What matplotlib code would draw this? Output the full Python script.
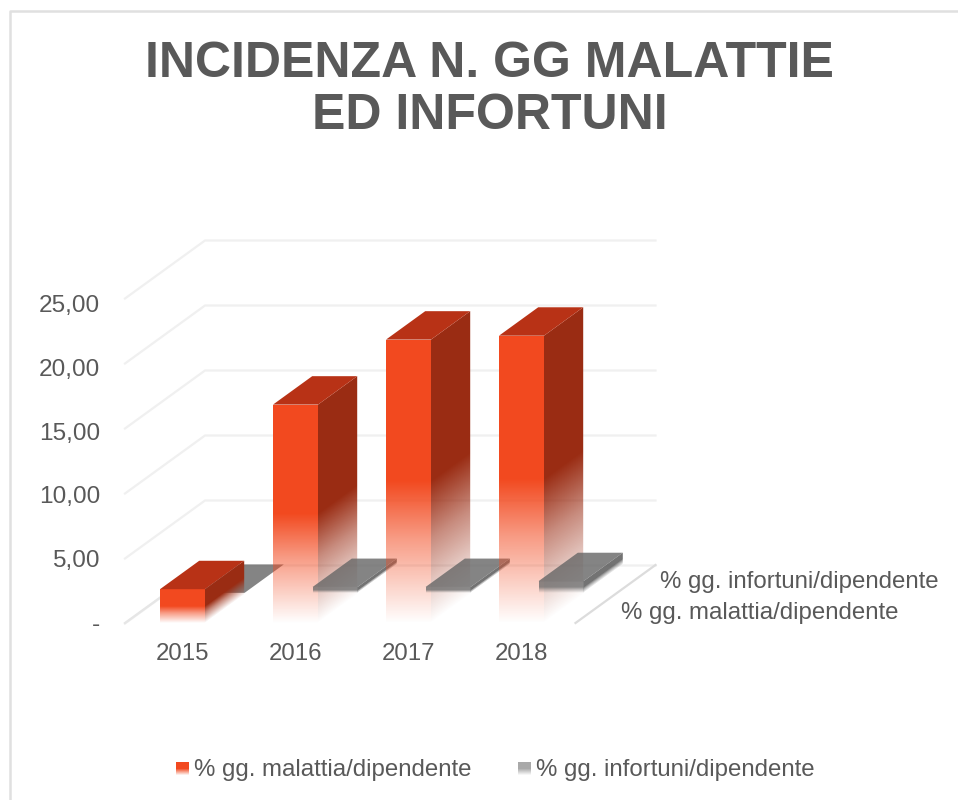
import numpy as np
import matplotlib
matplotlib.use('Agg')
import matplotlib.pyplot as plt
from matplotlib.colors import to_rgb
from matplotlib.patches import Polygon

anni = ['2015', '2016', '2017', '2018']
malattia = [2.6, 16.8, 21.8, 22.1]
infortuni = [0.0, 0.45, 0.45, 0.9]
tick_valori = [0, 5, 10, 15, 20, 25]
tick_testi = ['-', '5,00', '10,00', '15,00', '20,00', '25,00']
serie = ['% gg. malattia/dipendente', '% gg. infortuni/dipendente']

plt.rcParams['font.family'] = ['Liberation Sans', 'DejaVu Sans']
GRIGIO = '#595959'

# pseudo 3d: pixel position of (category, depth, value)
X0, Y0 = 125, 623
PX_CAT = 113
PX_VAL = 13.0
DX, DY = 80, -58
BAR_W = 45
BAR_OFF = 35
BAR_D = 0.49


def proj(x, d, v):
    return X0 + x + DX * d, Y0 - PX_VAL * v + DY * d


def fade(t):
    # t = 0 at the bottom of a bar, 1 at the top
    return np.interp(t, [0, 0.12, 0.3, 0.5, 1], [0, 0.22, 0.55, 1, 1])


def faccia(ax, poly, tfun, col, z, alpha=1.0):
    # gradient face: per pixel rgba image clipped to the polygon
    poly = np.array(poly)
    x0, y0 = np.floor(poly.min(axis=0)).astype(int) - 1
    x1, y1 = np.ceil(poly.max(axis=0)).astype(int) + 1
    xx, yy = np.meshgrid(np.arange(x0, x1) + 0.5, np.arange(y0, y1) + 0.5)
    im = np.zeros(xx.shape + (4,))
    im[..., :3] = to_rgb(col)
    im[..., 3] = fade(tfun(xx, yy)) * alpha
    art = ax.imshow(im, extent=(x0, x1, y1, y0), interpolation='nearest', zorder=z, aspect='auto')
    art.set_clip_path(Polygon(poly, closed=True, transform=ax.transData))


def barra(ax, i, d0, v, cols, z, alpha=1.0, sposta=0):
    x0 = BAR_OFF + PX_CAT * i + sposta
    x1 = x0 + BAR_W
    d1 = d0 + BAR_D
    if v > 0:
        ybase = Y0 + DY * d0
        hpx = PX_VAL * v
        xa = proj(x1, d0, 0)[0]

        def t_lato(xx, yy):
            u = (xx - xa) / (DX * BAR_D)
            return (ybase + DY * BAR_D * u - yy) / hpx

        lato = [proj(x1, d0, 0), proj(x1, d1, 0), proj(x1, d1, v), proj(x1, d0, v)]
        faccia(ax, lato, t_lato, cols[2], z, alpha)
        fronte = [proj(x0, d0, 0), proj(x1, d0, 0), proj(x1, d0, v), proj(x0, d0, v)]
        faccia(ax, fronte, lambda xx, yy: (ybase - yy) / hpx, cols[0], z + 0.1, alpha)
    top = [proj(x0, d0, v), proj(x1, d0, v), proj(x1, d1, v), proj(x0, d1, v)]
    ax.add_patch(Polygon(top, closed=True, fc=cols[1], ec='none', alpha=alpha, zorder=z + 0.2))


fig = plt.figure(figsize=(9.58, 8.0), dpi=100)
ax = fig.add_axes([0, 0, 1, 1])

# walls
larg = PX_CAT * 4 - 1.5
for v in tick_valori:
    a = proj(0, 0, v)
    b = proj(0, 1, v)
    c = proj(larg, 1, v)
    ax.plot([a[0], b[0], c[0]], [a[1] + 0.5, b[1] + 0.5, c[1] + 0.5], color='#F0F0F0', lw=1.6, zorder=1)
a = proj(larg, 0, 0)
b = proj(larg, 1, 0)
ax.plot([a[0], b[0]], [a[1], b[1]], color='#DCDCDC', lw=1.6, zorder=1)
a = proj(0, 0, 0)
ax.plot([a[0], a[0] + DX], [a[1], a[1] + DY], color='#E6E6E6', lw=1.6, zorder=1)

ROSSO = ('#F2491F', '#B83216', '#9A2C13')
CENERE = ('#6E6E6E', '#666666', '#505050')
for i in range(len(anni)):
    base = 3 + i
    if infortuni[i] > 0:
        barra(ax, i, 0, malattia[i], ROSSO, base)
        barra(ax, i, 0.52, infortuni[i], CENERE, base + 0.5, 0.8, -2)
    else:
        barra(ax, i, 0.52, infortuni[i], CENERE, base, 0.8, -2)
        barra(ax, i, 0, malattia[i], ROSSO, base + 0.5)

for v, s in zip(tick_valori, tick_testi):
    ax.text(100, Y0 + 2 - v * 12.76, s, ha='right', va='center', fontsize=17.6, color=GRIGIO)
for i, s in enumerate(anni):
    ax.text(X0 + BAR_OFF + PX_CAT * i + BAR_W / 2, 654, s, ha='center', va='center', fontsize=17.3, color=GRIGIO)
ax.text(939, 582, serie[1], ha='right', va='center', fontsize=17.3, color=GRIGIO)
ax.text(899, 613, serie[0], ha='right', va='center', fontsize=17.3, color=GRIGIO)

ax.text(489.5, 90, 'INCIDENZA N. GG MALATTIE\nED INFORTUNI', ha='center', va='center', fontsize=36,
        fontweight='bold', color=GRIGIO, linespacing=1.16)

# legend
for xs, col, s, xt in [(176, ROSSO[0], serie[0], 194), (518, '#A9A9A9', serie[1], 536)]:
    C = np.zeros((13, 1, 4))
    C[:, 0, :3] = to_rgb(col)
    C[:, 0, 3] = np.interp(np.linspace(1, 0, 13), [0, 0.5, 1], [0.1, 1, 1])
    ax.pcolormesh(np.array([xs, xs + 13]), np.linspace(762, 775, 14), C, shading='flat', antialiased=False)
    ax.text(xt, 770, s, ha='left', va='center', fontsize=17.3, color=GRIGIO)

# chart frame
ax.plot([10.5, 10.5, 958], [800, 11, 11], color='#E0E0E0', lw=1.8, zorder=0)

ax.set_xlim(0, 958)
ax.set_ylim(800, 0)
ax.axis('off')

fig.savefig('out.png', dpi=100)
